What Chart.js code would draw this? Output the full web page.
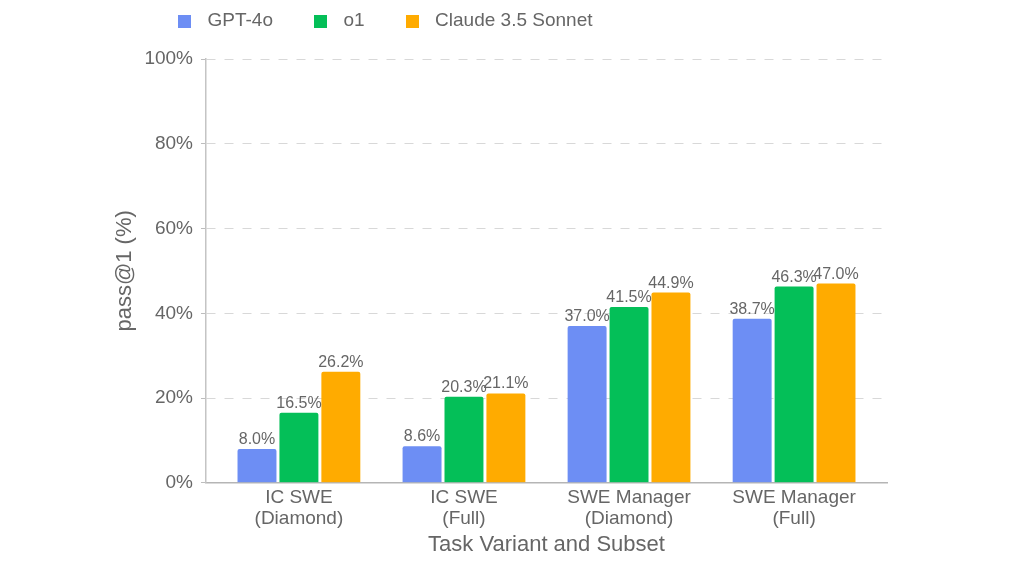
<!DOCTYPE html>
<html>
<head>
<meta charset="utf-8">
<script src="https://cdn.jsdelivr.net/npm/chart.js@4/dist/chart.umd.min.js"></script>
<style>
  html, body { margin: 0; padding: 0; background: #fff; }
  #wrap { width: 1024px; height: 563px; position: relative; }
</style>
</head>
<body>
<div id="wrap"><canvas id="chart"></canvas></div>
<script>
const categories = [
    ['IC SWE', '(Diamond)'],
    ['IC SWE', '(Full)'],
    ['SWE Manager', '(Diamond)'],
    ['SWE Manager', '(Full)']
];
const seriesNames = ['GPT-4o', 'o1', 'Claude 3.5 Sonnet'];
const gpt4o = [8.0, 8.6, 37.0, 38.7];
const o1 = [16.5, 20.3, 41.5, 46.3];
const claude = [26.2, 21.1, 44.9, 47.0];
const yTicks = [0, 20, 40, 60, 80, 100];

const COLORS = ['#6d8ef4', '#04bf58', '#ffab00'];
const FONT = "'Liberation Sans', Arial, Helvetica, sans-serif";
const TEXT = '#666666';

Chart.defaults.font.family = FONT;
Chart.defaults.color = TEXT;

function swatch(color) {
    const c = document.createElement('canvas');
    c.width = 13;
    c.height = 13;
    const g = c.getContext('2d');
    g.fillStyle = color;
    g.fillRect(0, 0, 13, 13);
    return c;
}

function toPoints(arr) {
    return arr.map((v, i) => ({ x: i, y: v }));
}

// value labels above each bar
const barLabels = {
    id: 'barLabels',
    afterDatasetsDraw(chart) {
        const ctx = chart.ctx;
        ctx.save();
        ctx.font = '16px ' + FONT;
        ctx.fillStyle = TEXT;
        ctx.textAlign = 'center';
        ctx.textBaseline = 'alphabetic';
        chart.data.datasets.forEach((ds, di) => {
            chart.getDatasetMeta(di).data.forEach((bar, i) => {
                ctx.fillText(ds.data[i].y.toFixed(1) + '%', bar.x, bar.y - 5);
            });
        });
        ctx.restore();
    }
};

// legend sits left of the default spot, tight to the top
const legendPlace = {
    id: 'legendPlace',
    beforeInit(chart) {
        const fit = chart.legend.fit;
        chart.legend.fit = function () {
            fit.call(this);
            this.height = 59;
        };
    },
    afterLayout(chart) {
        const lg = chart.legend;
        const dx = 25, dy = -22.5;
        lg.left += dx; lg.right += dx;
        lg.top += dy; lg.bottom += dy;
    }
};

const datasets = [gpt4o, o1, claude].map((vals, i) => ({
    label: seriesNames[i],
    data: toPoints(vals),
    backgroundColor: COLORS[i],
    borderWidth: 0,
    borderRadius: 2,
    borderSkipped: 'start',
    categoryPercentage: 0.762,
    barPercentage: 0.929
}));

new Chart(document.getElementById('chart'), {
    type: 'bar',
    data: { datasets },
    plugins: [barLabels, legendPlace],
    options: {
        responsive: true,
        maintainAspectRatio: false,
        animation: false,
        layout: { padding: { left: 112, right: 137, top: 0, bottom: 2 } },
        plugins: {
            tooltip: { enabled: false },
            legend: {
                position: 'top',
                align: 'start',
                labels: {
                    font: { size: 19 },
                    color: TEXT,
                    padding: 34,
                    usePointStyle: true,
                    pointStyleWidth: 27,
                    generateLabels(chart) {
                        const items = Chart.defaults.plugins.legend.labels.generateLabels(chart);
                        items.forEach((it, i) => { it.pointStyle = swatch(COLORS[i]); });
                        return items;
                    }
                }
            }
        },
        scales: {
            x: {
                type: 'linear',
                offset: false,
                min: -0.563,
                max: 3.563,
                afterBuildTicks: s => { s.ticks = categories.map((_, i) => ({ value: i })); },
                ticks: {
                    font: { size: 19, lineHeight: 1.1 },
                    color: TEXT,
                    padding: 5,
                    maxRotation: 0,
                    autoSkip: false,
                    callback: v => categories[v] || ''
                },
                grid: { display: false, drawTicks: false, offset: false },
                border: { display: true, color: '#b5b5b5', width: 1.5 },
                title: {
                    display: true,
                    text: 'Task Variant and Subset',
                    font: { size: 22, lineHeight: 1.2 },
                    color: TEXT,
                    padding: { top: -3, bottom: 3 }
                }
            },
            y: {
                min: 0,
                max: 100,
                afterBuildTicks: s => { s.ticks = yTicks.map(v => ({ value: v })); },
                ticks: {
                    font: { size: 19 },
                    color: TEXT,
                    padding: 8,
                    callback: v => v + '%'
                },
                grid: {
                    color: '#d8d8d8',
                    lineWidth: 1,
                    tickLength: 5,
                    tickColor: '#bdbdbd',
                    tickBorderDash: []
                },
                border: { display: true, color: '#c4c4c4', width: 1.5, dash: [9, 9] },
                title: {
                    display: true,
                    text: 'pass@1 (%)',
                    font: { size: 22, lineHeight: 1.2 },
                    color: TEXT,
                    padding: { top: 0, bottom: -2 }
                }
            }
        }
    }
});
</script>
</body>
</html>
